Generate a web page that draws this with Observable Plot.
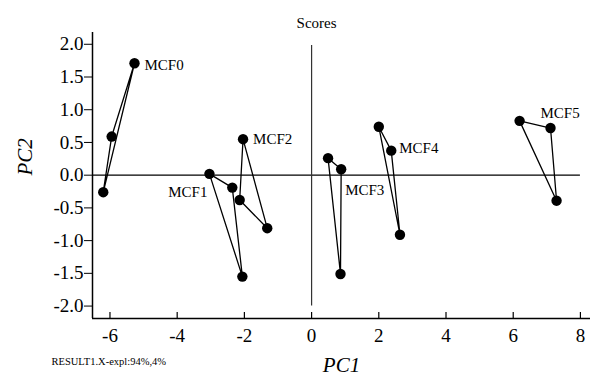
<!DOCTYPE html>
<html><head><meta charset="utf-8">
<script src="https://cdn.jsdelivr.net/npm/d3@7"></script>
<script src="https://cdn.jsdelivr.net/npm/@observablehq/plot@0.6"></script>
<style>
body{margin:0;background:#fff}
</style>
</head><body><div id="chart"></div>
<script>
const groups = ["MCF0","MCF0","MCF0","MCF1","MCF1","MCF1","MCF2","MCF2","MCF2","MCF3","MCF3","MCF3","MCF4","MCF4","MCF4","MCF5","MCF5","MCF5"];
const pc1 = [-5.27,-5.95,-6.20, -3.04,-2.36,-2.06, -2.04,-2.14,-1.32, 0.49,0.88,0.86, 2.00,2.37,2.63, 6.19,7.11,7.29];
const pc2 = [1.71,0.59,-0.26, 0.02,-0.19,-1.55, 0.55,-0.38,-0.81, 0.26,0.09,-1.51, 0.74,0.375,-0.91, 0.83,0.72,-0.39];
const labelNames = ["MCF0","MCF1","MCF2","MCF3","MCF4","MCF5"];
const labelAt = [0, 3, 6, 10, 13, 16];
const xTicks = [-6,-4,-2,0,2,4,6,8];
const yTicks = [-2,-1.5,-1,-0.5,0,0.5,1,1.5,2];
const titleText = "Scores";
const xLabel = "PC1";
const yLabel = "PC2";
const noteText = "RESULT1.X-expl:94%,4%";

const xDomain = [-6.52, 8.3];
const yDomain = [-2.19, 2.18];
const data = pc1.map((x, i) => ({x, y: pc2[i], g: groups[i]}));
const labels = labelNames.map((name, i) => ({name, x: pc1[labelAt[i]], y: pc2[labelAt[i]]}));
// label placement (layout only)
const labelLayout = [
  {dx: 10, dy: 2, anchor: "start"},
  {dx: -2, dy: 18, anchor: "end"},
  {dx: 10, dy: 0, anchor: "start"},
  {dx: 4, dy: 21, anchor: "start"},
  {dx: 8, dy: -2, anchor: "start"},
  {dx: -10, dy: -15, anchor: "start"}
];
const ink = "#000";
const font = "Liberation Serif";

const chart = Plot.plot({
  width: 590, height: 376,
  marginLeft: 92, marginRight: 0, marginTop: 32, marginBottom: 58,
  style: {fontSize: "19px", background: "#fff", overflow: "visible"},
  x: {domain: xDomain, label: null},
  y: {domain: yDomain, label: null},
  marks: [
    Plot.ruleY([0], {x1: xDomain[0], x2: 8, stroke: ink, strokeWidth: 1.2}),
    Plot.ruleX([0], {y1: -2, y2: 1.98, stroke: "#333", strokeWidth: 1.2}),
    Plot.line(data, {x: "x", y: "y", z: "g", curve: "linear-closed", stroke: ink, strokeWidth: 1.3}),
    Plot.dot(data, {x: "x", y: "y", r: 5.2, fill: ink, stroke: null}),
    ...labels.map((d, i) => Plot.text([d], {x: "x", y: "y", text: "name", dx: labelLayout[i].dx, dy: labelLayout[i].dy, textAnchor: labelLayout[i].anchor, fontSize: 15, fill: ink})),
    Plot.ruleX([xDomain[0]], {stroke: ink, strokeWidth: 1.5}),
    Plot.ruleY([yDomain[0]], {stroke: ink, strokeWidth: 1.5}),
    Plot.axisY(yTicks, {tickSize: 8, tickPadding: 1, tickFormat: d => d.toFixed(1), fontSize: 19, stroke: ink, fill: ink, label: null}),
    Plot.axisX(xTicks, {tickSize: 0, tickPadding: 10, tickFormat: d => String(d), fontSize: 19, fill: ink, label: null}),
    Plot.tickX(xTicks, {x: d => d, insetTop: 280, stroke: ink, strokeWidth: 1.2}),
    Plot.text([titleText], {frameAnchor: "top", x: () => 0, text: d => d, dx: 5, dy: -9, lineAnchor: "middle", fontSize: 15, fill: ink}),
    Plot.text([xLabel], {frameAnchor: "bottom", text: d => d, dy: 47, lineAnchor: "middle", fontSize: 21, fontStyle: "italic", fill: ink}),
    Plot.text([yLabel], {frameAnchor: "left", text: d => d, dx: -67, rotate: -90, lineAnchor: "middle", fontSize: 21, fontStyle: "italic", fill: ink}),
    Plot.text([noteText], {frameAnchor: "bottom-left", text: d => d, dx: -41, dy: 43, textAnchor: "start", lineAnchor: "middle", fontSize: 10.5, fill: ink})
  ]
});
d3.select(chart).attr("font-family", font).style("font-family", font);
d3.select(chart).selectAll("g, text").attr("font-family", font).style("font-family", font);
document.getElementById("chart").appendChild(chart);
</script>
</body></html>
